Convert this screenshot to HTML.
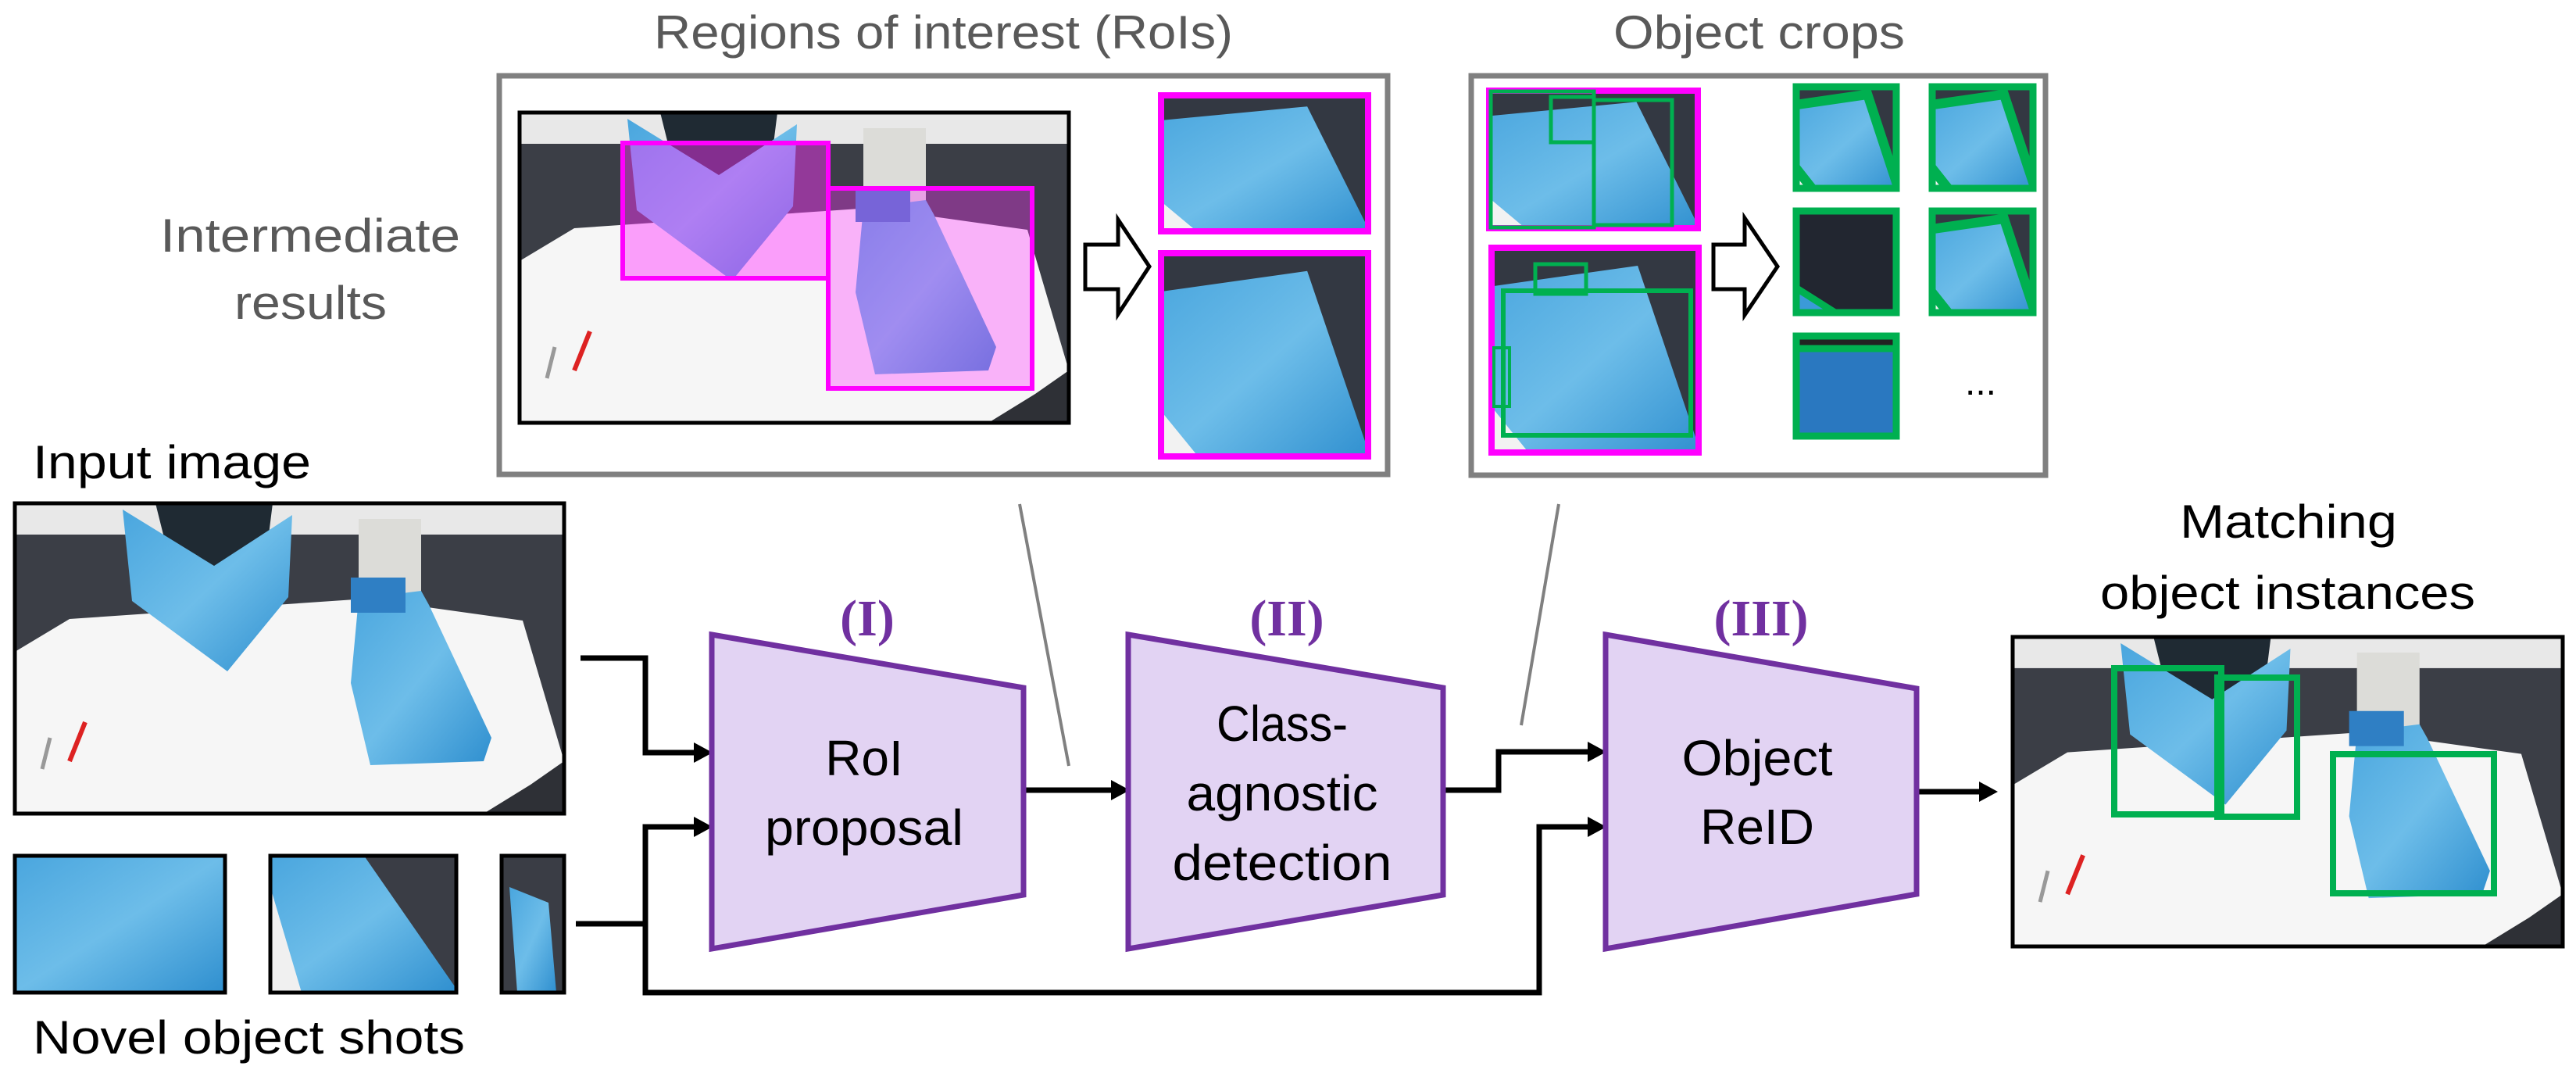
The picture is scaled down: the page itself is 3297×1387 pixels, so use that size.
<!DOCTYPE html>
<html><head><meta charset="utf-8"><style>html,body{margin:0;padding:0;background:#fff}svg{display:block}</style></head>
<body>
<svg width="3297" height="1387" viewBox="0 0 3297 1387" xmlns="http://www.w3.org/2000/svg">
<defs>
<linearGradient id="blue" x1="0" y1="0" x2="1" y2="1"><stop offset="0" stop-color="#4aa6de"/><stop offset="0.5" stop-color="#6dbde9"/><stop offset="1" stop-color="#2f8fcf"/></linearGradient>
<symbol id="scene" viewBox="0 0 703 397" preserveAspectRatio="none">
<rect width="703" height="397" fill="#3b3e46"/>
<rect x="0" y="0" width="703" height="40" fill="#e8e8e8"/>
<rect x="440" y="20" width="80" height="130" fill="#dcdcd8"/>
<polygon points="0,190 70,148 450,122 650,150 703,330 703,397 0,397" fill="#f6f6f6"/>
<polygon points="600,397 703,397 703,330 660,360" fill="#2e3036"/>
<polygon points="180,0 330,0 320,80 200,80" fill="#1f2a33"/>
<polygon points="138,8 255,80 355,15 350,120 272,215 150,125" fill="url(#blue)"/>
<polygon points="440,122 520,112 530,130 610,300 600,330 455,335 430,230" fill="url(#blue)"/>
<rect x="430" y="95" width="70" height="45" fill="#2f7fc4"/>
<line x1="90" y1="280" x2="70" y2="330" stroke="#d22" stroke-width="6"/>
<line x1="45" y1="300" x2="35" y2="340" stroke="#999" stroke-width="5"/>
</symbol>
<symbol id="crop" viewBox="0 0 100 100" preserveAspectRatio="none">
<rect width="100" height="100" fill="#333842"/>
<polygon points="0,20 70,10 100,100 0,100" fill="url(#blue)"/>
<polygon points="0,75 20,100 0,100" fill="#f2f2f2"/>
</symbol>
</defs>

<!-- Titles -->
<g font-family="Liberation Sans, sans-serif" fill="#595959" font-size="60">
<text x="837" y="62" textLength="741" lengthAdjust="spacingAndGlyphs">Regions of interest (RoIs)</text>
<text x="2065" y="62" textLength="373" lengthAdjust="spacingAndGlyphs">Object crops</text>
<text x="205" y="322" textLength="384" lengthAdjust="spacingAndGlyphs">Intermediate</text>
<text x="300" y="408" textLength="195" lengthAdjust="spacingAndGlyphs">results</text>
</g>

<!-- RoI box -->
<rect x="639" y="97" width="1137" height="510" fill="none" stroke="#808080" stroke-width="7"/>
<svg x="665" y="144" width="703" height="397"><use href="#scene" width="703" height="397"/></svg>
<rect x="665" y="144" width="703" height="397" fill="none" stroke="#000" stroke-width="5"/>
<rect x="797" y="183" width="263" height="173" fill="#ff33ff" fill-opacity="0.45"/>
<rect x="1060" y="241" width="261" height="256" fill="#ff33ff" fill-opacity="0.35"/>
<rect x="797" y="183" width="263" height="173" fill="none" stroke="#ff00ff" stroke-width="6"/>
<rect x="1060" y="241" width="261" height="256" fill="none" stroke="#ff00ff" stroke-width="6"/>
<polygon points="1389,313 1431,313 1431,281 1471,341 1431,402 1431,370 1389,370" fill="#fff" stroke="#000" stroke-width="5"/>
<svg x="1482" y="118" width="273" height="182"><use href="#crop" width="273" height="182"/></svg>
<rect x="1486" y="122" width="265" height="174" fill="none" stroke="#ff00ff" stroke-width="8"/>
<svg x="1482" y="320" width="273" height="268"><use href="#crop" width="273" height="268"/></svg>
<rect x="1486" y="324" width="265" height="260" fill="none" stroke="#ff00ff" stroke-width="8"/>

<!-- Object crops box -->
<rect x="1883" y="97" width="735" height="511" fill="none" stroke="#808080" stroke-width="7"/>
<svg x="1902" y="112" width="275" height="184"><use href="#crop" width="275" height="184"/></svg>
<rect x="1906" y="116" width="267" height="176" fill="none" stroke="#ff00ff" stroke-width="8"/>
<rect x="1908" y="117" width="132" height="174" fill="none" stroke="#00b050" stroke-width="5"/>
<rect x="2040" y="128" width="100" height="160" fill="none" stroke="#00b050" stroke-width="5"/>
<rect x="1985" y="124" width="55" height="58" fill="none" stroke="#00b050" stroke-width="5"/>
<svg x="1905" y="313" width="273" height="270"><use href="#crop" width="273" height="270"/></svg>
<rect x="1909" y="317" width="265" height="262" fill="none" stroke="#ff00ff" stroke-width="8"/>
<rect x="1924" y="372" width="240" height="185" fill="none" stroke="#00b050" stroke-width="6"/>
<rect x="1965" y="338" width="65" height="38" fill="none" stroke="#00b050" stroke-width="5"/>
<rect x="1912" y="445" width="20" height="75" fill="none" stroke="#00b050" stroke-width="4"/>
<polygon points="2193,313 2233,313 2233,279 2275,341 2233,403 2233,370 2193,370" fill="#fff" stroke="#000" stroke-width="5"/>
<g fill="none" stroke="#00b050" stroke-width="9">
<svg x="2295" y="107" width="136" height="138"><use href="#crop" width="136" height="138"/></svg>
<rect x="2299" y="111" width="128" height="130"/>
<svg x="2469" y="107" width="137" height="138"><use href="#crop" width="137" height="138"/></svg>
<rect x="2473" y="111" width="129" height="130"/>
<svg x="2295" y="266" width="136" height="138"><rect width="136" height="138" fill="#222630"/><polygon points="0,100 60,138 0,138" fill="#3b9ad8"/></svg>
<rect x="2299" y="270" width="128" height="130"/>
<svg x="2469" y="266" width="137" height="138"><use href="#crop" width="137" height="138"/></svg>
<rect x="2473" y="270" width="129" height="130"/>
<svg x="2295" y="426" width="136" height="136"><rect width="136" height="136" fill="#2a78c0"/><rect width="136" height="20" fill="#222"/></svg>
<rect x="2299" y="430" width="128" height="128"/>
</g>
<text x="2515" y="505" font-family="Liberation Sans, sans-serif" font-size="48" fill="#000">...</text>

<!-- gray leader lines -->
<line x1="1305" y1="645" x2="1368" y2="980" stroke="#808080" stroke-width="4"/>
<line x1="1995" y1="645" x2="1947" y2="928" stroke="#808080" stroke-width="4"/>

<!-- Input image -->
<g font-family="Liberation Sans, sans-serif" fill="#000" font-size="60">
<text x="42" y="612" textLength="356" lengthAdjust="spacingAndGlyphs">Input image</text>
<text x="42" y="1348" textLength="553" lengthAdjust="spacingAndGlyphs">Novel object shots</text>
<text x="2790" y="688" textLength="278" lengthAdjust="spacingAndGlyphs">Matching</text>
<text x="2688" y="779" textLength="480" lengthAdjust="spacingAndGlyphs">object instances</text>
</g>
<svg x="19" y="644" width="703" height="397"><use href="#scene" width="703" height="397"/></svg>
<rect x="19" y="644" width="703" height="397" fill="none" stroke="#000" stroke-width="5"/>

<!-- Novel shots -->
<rect x="19" y="1095" width="269" height="175" fill="url(#blue)" stroke="#000" stroke-width="5"/>
<svg x="346" y="1095" width="238" height="175"><rect width="238" height="175" fill="#3a3d45"/><polygon points="0,0 120,0 238,170 238,175 40,175 0,150" fill="url(#blue)"/><polygon points="0,40 40,175 0,175" fill="#f0f0f0"/></svg>
<rect x="346" y="1095" width="238" height="175" fill="none" stroke="#000" stroke-width="5"/>
<svg x="642" y="1095" width="80" height="175"><rect width="80" height="175" fill="#3a3d45"/><polygon points="10,40 60,60 70,175 20,175" fill="url(#blue)"/></svg>
<rect x="642" y="1095" width="80" height="175" fill="none" stroke="#000" stroke-width="5"/>

<!-- Connectors -->
<g fill="none" stroke="#000" stroke-width="7">
<polyline points="743,842 826,842 826,963 892,963"/>
<polyline points="737,1182 826,1182"/>
<polyline points="892,1058 826,1058 826,1270 1970,1270 1970,1058 2036,1058"/>
<line x1="1310" y1="1011" x2="1426" y2="1011"/>
<polyline points="1847,1011 1918,1011 1918,962 2036,962"/>
<line x1="2453" y1="1013" x2="2537" y2="1013"/>
</g>
<g fill="#000">
<polygon points="888,950 912,963 888,976"/>
<polygon points="888,1045 912,1058 888,1071"/>
<polygon points="1422,998 1446,1011 1422,1024"/>
<polygon points="2032,949 2056,962 2032,975"/>
<polygon points="2032,1045 2056,1058 2032,1071"/>
<polygon points="2533,1000 2557,1013 2533,1026"/>
</g>

<!-- Trapezoids -->
<g fill="#e2d3f3" stroke="#7030a0" stroke-width="7">
<polygon points="911,812 1310,880 1310,1145 911,1214"/>
<polygon points="1444,812 1847,880 1847,1145 1444,1214"/>
<polygon points="2055,812 2453,881 2453,1144 2055,1214"/>
</g>
<g font-family="Liberation Serif, serif" fill="#7030a0" font-size="66" font-weight="bold" text-anchor="middle">
<text x="1110" y="813">(I)</text>
<text x="1647" y="813">(II)</text>
<text x="2254" y="813">(III)</text>
</g>
<g font-family="Liberation Sans, sans-serif" fill="#000" font-size="64" text-anchor="middle">
<text x="1106" y="992">RoI</text>
<text x="1106" y="1081" textLength="254" lengthAdjust="spacingAndGlyphs">proposal</text>
<text x="1641" y="948" textLength="168" lengthAdjust="spacingAndGlyphs">Class-</text>
<text x="1641" y="1037" textLength="245" lengthAdjust="spacingAndGlyphs">agnostic</text>
<text x="1641" y="1126" textLength="281" lengthAdjust="spacingAndGlyphs">detection</text>
<text x="2249" y="992" textLength="193" lengthAdjust="spacingAndGlyphs">Object</text>
<text x="2249" y="1080">ReID</text>
</g>

<!-- Output image -->
<svg x="2576" y="815" width="704" height="396"><use href="#scene" width="704" height="396"/></svg>
<rect x="2576" y="815" width="704" height="396" fill="none" stroke="#000" stroke-width="5"/>
<g fill="none" stroke="#00b050" stroke-width="8">
<rect x="2706" y="855" width="137" height="187"/>
<rect x="2838" y="867" width="102" height="178"/>
<rect x="2986" y="965" width="206" height="178"/>
</g>
</svg>
</body></html>
